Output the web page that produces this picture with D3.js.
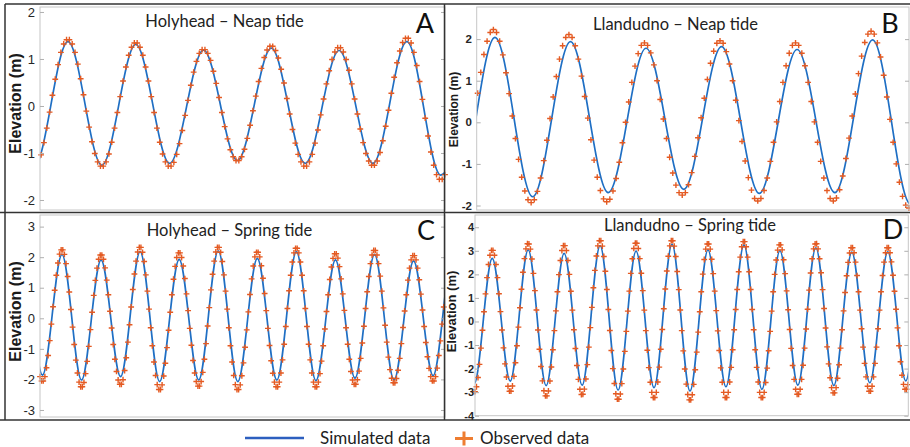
<!DOCTYPE html>
<html>
<head>
<meta charset="utf-8">
<script src="https://cdn.jsdelivr.net/npm/d3@7"></script>
<style>
  body { margin: 0; background: #fff; }
  svg { display: block; }
</style>
</head>
<body>
<svg id="chart" width="910" height="447"></svg>
<script>
// ================= DATA =================
// x is a sample index (one observation every half hour), y is elevation in metres

// tick labels
const ticksA = [-2, -1, 0, 1, 2];
const ticksB = [-2, -1, 0, 1, 2];
const ticksC = [-3, -2, -1, 0, 1, 2, 3];
const ticksD = [-4, -3, -2, -1, 0, 1, 2, 3, 4];

// simulated data: high / low water times and levels
const simTimeA = [-14.5, -2.5, 9.5, 21.5, 33.5, 45.5, 57.5, 69.5, 81.5, 93.5, 105.5, 117.5, 129.5, 141.5, 153.5];
const simLevelA = [1.30, -1.30, 1.37, -1.26, 1.31, -1.22, 1.19, -1.16, 1.23, -1.22, 1.18, -1.22, 1.37, -1.47, 1.30];

const simTimeB = [-18.5, -6.5, 5.5, 17.5, 29.5, 41.5, 53.5, 65.5, 77.5, 89.5, 101.5, 113.5, 125.5, 137.5, 149.5];
const simLevelB = [2.00, -1.80, 2.04, -1.79, 1.94, -1.69, 1.78, -1.61, 1.82, -1.71, 1.75, -1.69, 1.98, -1.96, 1.90];

const simTimeC = [-22.5, -10.5, 1.5, 13.5, 25.5, 37.5, 49.5, 61.5, 73.5, 85.5, 97.5, 109.5, 121.5, 133.5,
  145.5, 157.5, 169.5, 181.5, 193.5, 205.5, 217.5, 229.5, 241.5, 253.5, 265.5];
const simLevelC = [-1.90, 2.10, -1.86, 2.09, -2.02, 1.91, -1.91, 2.18, -2.07, 1.93, -2.02, 2.21, -2.07, 1.96,
  -2.02, 2.18, -2.04, 1.91, -1.96, 2.09, -2.02, 1.88, -1.88, 2.10, -2.00];

const simTimeD = [-24.5, -12.5, -0.5, 11.5, 23.5, 35.5, 47.5, 59.5, 71.5, 83.5, 95.5, 107.5, 119.5, 131.5, 143.5,
  155.5, 167.5, 179.5, 191.5, 203.5, 215.5, 227.5, 239.5, 251.5, 263.5, 275.5, 287.5, 299.5, 311.5];
const simLevelD = [-2.60, 2.70, -2.64, 2.68, -2.53, 3.04, -2.72, 2.89, -2.70, 3.22, -2.91, 2.99, -2.81, 3.28, -2.95,
  3.04, -2.77, 3.25, -2.88, 3.01, -2.70, 3.13, -2.72, 2.94, -2.60, 2.96, -2.52, 2.90, -2.50];

// observed data (half-hourly)
const obsA = [
  -1.04, -0.78, -0.47, -0.13, 0.23, 0.57, 0.88, 1.14, 1.32, 1.41,
  1.41, 1.32, 1.14, 0.89, 0.58, 0.24, -0.11, -0.45, -0.76, -1.01, -1.19, -1.28,
  -1.28, -1.19, -1.02, -0.77, -0.47, -0.14, 0.20, 0.53, 0.83, 1.08, 1.25, 1.34,
  1.34, 1.25, 1.08, 0.83, 0.53, 0.20, -0.14, -0.47, -0.77, -1.02, -1.19, -1.28,
  -1.28, -1.20, -1.03, -0.80, -0.52, -0.20, 0.12, 0.44, 0.72, 0.95, 1.12, 1.20,
  1.20, 1.12, 0.97, 0.74, 0.48, 0.18, -0.14, -0.44, -0.70, -0.93, -1.08, -1.16,
  -1.16, -1.08, -0.92, -0.69, -0.41, -0.10, 0.21, 0.52, 0.80, 1.03, 1.19, 1.27,
  1.27, 1.18, 1.02, 0.78, 0.49, 0.16, -0.17, -0.50, -0.79, -1.03, -1.19, -1.28,
  -1.28, -1.19, -1.03, -0.79, -0.51, -0.19, 0.15, 0.47, 0.75, 0.99, 1.15, 1.24,
  1.24, 1.15, 0.99, 0.76, 0.47, 0.15, -0.17, -0.49, -0.78, -1.01, -1.17, -1.26,
  -1.26, -1.17, -0.99, -0.74, -0.43, -0.09, 0.27, 0.61, 0.92, 1.17, 1.35, 1.44,
  1.44, 1.34, 1.14, 0.86, 0.52, 0.14, -0.26, -0.64, -0.98, -1.26, -1.46, -1.56,
  -1.56, -1.46
];

const obsB = [
  0.70, 1.20, 1.63, 1.95, 2.16,
  2.23, 2.16, 1.95, 1.62, 1.19, 0.69, 0.15, -0.39, -0.89, -1.32, -1.65, -1.86,
  -1.93, -1.86, -1.66, -1.34, -0.92, -0.43, 0.09, 0.61, 1.10, 1.52, 1.84, 2.04,
  2.11, 2.04, 1.84, 1.52, 1.11, 0.62, 0.10, -0.42, -0.91, -1.32, -1.64, -1.84,
  -1.91, -1.85, -1.65, -1.35, -0.96, -0.49, 0.00, 0.49, 0.96, 1.35, 1.65, 1.85,
  1.91, 1.85, 1.67, 1.38, 1.00, 0.55, 0.08, -0.39, -0.84, -1.22, -1.51, -1.69,
  -1.75, -1.69, -1.50, -1.21, -0.82, -0.37, 0.11, 0.58, 1.03, 1.42, 1.71, 1.90,
  1.96, 1.90, 1.70, 1.40, 1.00, 0.53, 0.04, -0.46, -0.93, -1.33, -1.63, -1.83,
  -1.89, -1.83, -1.64, -1.34, -0.94, -0.48, 0.01, 0.50, 0.96, 1.36, 1.66, 1.85,
  1.91, 1.85, 1.66, 1.36, 0.96, 0.50, 0.01, -0.48, -0.94, -1.34, -1.64, -1.83,
  -1.89, -1.82, -1.62, -1.29, -0.87, -0.38, 0.15, 0.68, 1.17, 1.59, 1.92, 2.12,
  2.19, 2.12, 1.91, 1.57, 1.13, 0.61, 0.07, -0.48, -1.00, -1.44, -1.78, -1.99,
  -2.06
];

const obsC = [
  -1.91, -2.05,
  -2.05, -1.91, -1.62, -1.22, -0.73, -0.19, 0.38, 0.92, 1.41, 1.81, 2.10, 2.24,
  2.24, 2.09, 1.79, 1.37, 0.86, 0.29, -0.29, -0.86, -1.37, -1.79, -2.09, -2.24,
  -2.24, -2.10, -1.81, -1.41, -0.92, -0.37, 0.20, 0.75, 1.24, 1.64, 1.93, 2.07,
  2.07, 1.93, 1.65, 1.25, 0.77, 0.23, -0.32, -0.86, -1.34, -1.74, -2.02, -2.16,
  -2.16, -2.01, -1.71, -1.29, -0.78, -0.21, 0.37, 0.94, 1.45, 1.87, 2.17, 2.32,
  2.32, 2.16, 1.86, 1.42, 0.89, 0.30, -0.31, -0.90, -1.43, -1.87, -2.17, -2.33,
  -2.33, -2.18, -1.89, -1.47, -0.96, -0.39, 0.20, 0.77, 1.28, 1.70, 1.99, 2.14,
  2.14, 1.99, 1.71, 1.30, 0.80, 0.25, -0.33, -0.88, -1.38, -1.79, -2.07, -2.22,
  -2.22, -2.07, -1.77, -1.34, -0.83, -0.25, 0.35, 0.93, 1.44, 1.87, 2.17, 2.32,
  2.32, 2.16, 1.86, 1.42, 0.89, 0.30, -0.31, -0.90, -1.43, -1.87, -2.17, -2.33,
  -2.33, -2.18, -1.88, -1.46, -0.95, -0.38, 0.21, 0.78, 1.29, 1.71, 2.01, 2.16,
  2.16, 2.01, 1.72, 1.31, 0.81, 0.25, -0.33, -0.89, -1.39, -1.80, -2.09, -2.24,
  -2.24, -2.09, -1.79, -1.36, -0.85, -0.27, 0.32, 0.90, 1.41, 1.84, 2.14, 2.29,
  2.29, 2.14, 1.84, 1.41, 0.90, 0.32, -0.27, -0.85, -1.36, -1.79, -2.09, -2.24,
  -2.24, -2.09, -1.81, -1.40, -0.90, -0.35, 0.22, 0.77, 1.27, 1.68, 1.96, 2.11,
  2.11, 1.97, 1.69, 1.29, 0.80, 0.26, -0.31, -0.85, -1.34, -1.74, -2.02, -2.16,
  -2.16, -2.01, -1.73, -1.31, -0.81, -0.26, 0.32, 0.87, 1.37, 1.79, 2.07, 2.22,
  2.22, 2.07, 1.79, 1.38, 0.89, 0.34, -0.23, -0.78, -1.27, -1.68, -1.96, -2.11,
  -2.11, -1.97, -1.70, -1.31, -0.83, -0.30, 0.24, 0.77, 1.25, 1.64, 1.91, 2.05,
  2.05, 1.91, 1.64, 1.26, 0.79, 0.27, -0.27, -0.79, -1.26, -1.64, -1.91, -2.05,
  -2.05, -1.91, -1.63, -1.22, -0.74, -0.19, 0.37
];

const obsD = [
  -2.98, -2.77, -2.38, -1.82, -1.13, -0.37, 0.41, 1.17, 1.86, 2.42, 2.81, 3.02,
  3.02, 2.81, 2.42, 1.86, 1.18, 0.42, -0.36, -1.12, -1.80, -2.36, -2.75, -2.96,
  -2.96, -2.74, -2.33, -1.75, -1.03, -0.24, 0.58, 1.37, 2.09, 2.67, 3.08, 3.30,
  3.29, 3.07, 2.65, 2.04, 1.31, 0.49, -0.36, -1.18, -1.91, -2.52, -2.94, -3.16,
  -3.16, -2.95, -2.53, -1.93, -1.20, -0.39, 0.45, 1.26, 1.99, 2.59, 3.01, 3.22,
  3.22, 3.01, 2.59, 2.00, 1.28, 0.48, -0.35, -1.15, -1.87, -2.46, -2.88, -3.10,
  -3.09, -2.87, -2.44, -1.83, -1.09, -0.26, 0.60, 1.43, 2.17, 2.78, 3.21, 3.43,
  3.43, 3.20, 2.76, 2.13, 1.36, 0.51, -0.38, -1.23, -2.00, -2.63, -3.07, -3.30,
  -3.30, -3.08, -2.64, -2.02, -1.27, -0.42, 0.44, 1.29, 2.04, 2.66, 3.10, 3.32,
  3.32, 3.10, 2.67, 2.05, 1.31, 0.48, -0.39, -1.22, -1.96, -2.58, -3.01, -3.23,
  -3.23, -3.01, -2.57, -1.94, -1.18, -0.34, 0.54, 1.38, 2.14, 2.77, 3.21, 3.43,
  3.43, 3.20, 2.76, 2.12, 1.35, 0.49, -0.39, -1.25, -2.02, -2.66, -3.10, -3.33,
  -3.33, -3.11, -2.67, -2.05, -1.30, -0.45, 0.41, 1.26, 2.01, 2.63, 3.07, 3.29,
  3.29, 3.07, 2.64, 2.03, 1.29, 0.46, -0.40, -1.23, -1.97, -2.58, -3.01, -3.23,
  -3.23, -3.01, -2.57, -1.95, -1.20, -0.35, 0.51, 1.36, 2.11, 2.73, 3.17, 3.39,
  3.39, 3.17, 2.73, 2.11, 1.36, 0.51, -0.35, -1.20, -1.95, -2.57, -3.01, -3.23,
  -3.23, -3.01, -2.59, -1.98, -1.24, -0.42, 0.44, 1.26, 2.00, 2.61, 3.03, 3.25,
  3.25, 3.04, 2.62, 2.03, 1.30, 0.50, -0.34, -1.14, -1.87, -2.46, -2.88, -3.09,
  -3.09, -2.88, -2.46, -1.86, -1.13, -0.32, 0.52, 1.33, 2.06, 2.66, 3.08, 3.29,
  3.30, 3.08, 2.66, 2.07, 1.35, 0.55, -0.28, -1.08, -1.80, -2.39, -2.81, -3.03,
  -3.03, -2.81, -2.41, -1.84, -1.13, -0.35, 0.45, 1.23, 1.94, 2.51, 2.91, 3.13,
  3.13, 2.92, 2.52, 1.95, 1.26, 0.48, -0.31, -1.09, -1.78, -2.35, -2.75, -2.96,
  -2.96, -2.75, -2.35, -1.78, -1.09, -0.31, 0.48, 1.26, 1.95, 2.52, 2.92, 3.13,
  3.13, 2.92, 2.53, 1.96, 1.28, 0.52, -0.27, -1.03, -1.71, -2.28, -2.67, -2.88,
  -2.88, -2.68
];

// ================= LAYOUT =================
const simColor = '#1f6fc4';
const obsColor = '#e45a22';
const titleFont = 'Lato, "Open Sans", sans-serif';
const axisFont = '"Liberation Sans", Arial, sans-serif';

const panels = [
  { id: 'A', title: 'Holyhead – Neap tide', left: 40, top: 7, right: 445, bottom: 210,
    xDom: [-0.4, 143], yDom: [-2.213, 2.106], ticks: ticksA,
    simT: simTimeA, simV: simLevelA, obs: obsA,
    tick: { size: 13, weight: 'normal', x: 35 }, ylab: { x: 21, y: 103.5, size: 16 },
    titleAt: [224.5, 27], letterAt: [425, 33] },
  { id: 'B', title: 'Llandudno – Neap tide', left: 476.7, top: 7, right: 909, bottom: 210,
    xDom: [-0.3, 137.05], yDom: [-2.108, 2.772], ticks: ticksB,
    simT: simTimeB, simV: simLevelB, obs: obsB,
    tick: { size: 11.5, weight: 'bold', x: 472 }, ylab: { x: 457.5, y: 109.5, size: 12 },
    titleAt: [675.5, 29.5], letterAt: [890, 33] },
  { id: 'C', title: 'Holyhead – Spring tide', left: 40, top: 215, right: 445, bottom: 417,
    xDom: [0, 248.8], yDom: [-3.23, 3.38], ticks: ticksC,
    simT: simTimeC, simV: simLevelC, obs: obsC,
    tick: { size: 13, weight: 'normal', x: 35 }, ylab: { x: 21, y: 311.5, size: 16 },
    titleAt: [229.5, 236], letterAt: [426, 240] },
  { id: 'D', title: 'Llandudno – Spring tide', left: 475, top: 215, right: 908.3, bottom: 415.7,
    xDom: [0, 289.2], yDom: [-4.0, 4.52], ticks: ticksD,
    simT: simTimeD, simV: simLevelD, obs: obsD,
    tick: { size: 11, weight: 'bold', x: 474 }, ylab: { x: 455.5, y: 311.5, size: 13 },
    titleAt: [690, 231], letterAt: [893, 239] }
];

const svg = d3.select('#chart');
svg.append('rect').attr('width', 910).attr('height', 447).attr('fill', '#fff');

const plus = 'M-2.9,0H2.9M0,-2.9V2.9';

panels.forEach(p => {
  const x = d3.scaleLinear().domain(p.xDom).range([p.left, p.right]);
  const y = d3.scaleLinear().domain(p.yDom).range([p.bottom, p.top]);
  const g = svg.append('g').attr('class', 'panel-' + p.id);

  // clip for the simulated curve
  svg.append('clipPath').attr('id', 'clip' + p.id)
    .append('rect')
      .attr('x', p.left).attr('y', p.top)
      .attr('width', p.right - p.left).attr('height', p.bottom - p.top);

  // simulated line through the high / low waters
  const sim = p.simT.map((t, i) => ({ t, v: p.simV[i] }));
  const line = d3.line()
    .x(d => x(d.t))
    .y(d => y(d.v))
    .curve(d3.curveMonotoneX);

  g.append('path')
    .datum(sim)
    .attr('clip-path', `url(#clip${p.id})`)
    .attr('d', line)
    .attr('fill', 'none')
    .attr('stroke', simColor)
    .attr('stroke-width', 1.7);

  // observed points
  g.append('g').selectAll('path')
    .data(p.obs)
    .join('path')
      .attr('d', plus)
      .attr('transform', (v, i) => `translate(${x(i)},${y(v)})`)
      .attr('fill', 'none')
      .attr('stroke', obsColor)
      .attr('stroke-width', 1.4);

  // light grey axes box (matlab style)
  g.append('rect')
    .attr('x', p.left).attr('y', p.top)
    .attr('width', p.right - p.left).attr('height', p.bottom - p.top)
    .attr('fill', 'none')
    .attr('stroke', '#c6c6c6')
    .attr('stroke-width', 1);

  // inward ticks left and right
  const yAxisL = d3.axisRight(y).tickValues(p.ticks).tickSize(4).tickFormat('');
  const yAxisR = d3.axisLeft(y).tickValues(p.ticks).tickSize(4).tickFormat('');
  [[yAxisL, p.left], [yAxisR, p.right]].forEach(([ax, pos]) => {
    const a = g.append('g').attr('transform', `translate(${pos},0)`).call(ax);
    a.select('.domain').remove();
    a.selectAll('line').attr('stroke', '#b0b0b0');
  });

  // tick labels
  g.append('g').selectAll('text')
    .data(p.ticks)
    .join('text')
      .attr('x', p.tick.x)
      .attr('y', d => y(d))
      .attr('dy', '0.36em')
      .attr('text-anchor', 'end')
      .attr('font-family', axisFont)
      .attr('font-size', p.tick.size)
      .attr('font-weight', p.tick.weight)
      .attr('fill', '#262626')
      .text(d => d);

  // y label
  g.append('text')
    .attr('transform', `translate(${p.ylab.x},${p.ylab.y}) rotate(-90)`)
    .attr('text-anchor', 'middle')
    .attr('font-family', axisFont)
    .attr('font-weight', 'bold')
    .attr('font-size', p.ylab.size)
    .attr('fill', '#1a1a1a')
    .text('Elevation (m)');

  // title and panel letter
  g.append('text')
    .attr('x', p.titleAt[0]).attr('y', p.titleAt[1])
    .attr('text-anchor', 'middle')
    .attr('font-family', titleFont)
    .attr('font-size', 16.5)
    .attr('fill', '#222')
    .text(p.title);

  g.append('text')
    .attr('x', p.letterAt[0]).attr('y', p.letterAt[1])
    .attr('text-anchor', 'middle')
    .attr('font-family', titleFont)
    .attr('font-size', 27)
    .attr('fill', '#111')
    .text(p.id);
});

// dark frames around the panels
const frame = svg.append('g')
  .attr('stroke', '#333')
  .attr('stroke-width', 1.5);
frame.append('line').attr('x1', 5).attr('x2', 910).attr('y1', 4).attr('y2', 4);
frame.append('line').attr('x1', 5).attr('x2', 5).attr('y1', 4).attr('y2', 420);
frame.append('line').attr('x1', 0).attr('x2', 910).attr('y1', 212.5).attr('y2', 212.5);
frame.append('line').attr('x1', 444.5).attr('x2', 444.5).attr('y1', 4).attr('y2', 420);
frame.append('line').attr('x1', 0).attr('x2', 910).attr('y1', 420).attr('y2', 420);

// legend
const legend = svg.append('g').attr('font-family', titleFont).attr('font-size', 17).attr('fill', '#222');
legend.append('line')
  .attr('x1', 245).attr('x2', 304).attr('y1', 438).attr('y2', 438)
  .attr('stroke', '#2d5fbf').attr('stroke-width', 2.5);
legend.append('text').attr('x', 320).attr('y', 443.5).text('Simulated data');
legend.append('path')
  .attr('d', 'M-9,0H9M0,-7V7')
  .attr('transform', 'translate(464,438.5)')
  .attr('stroke', '#ee7d31').attr('stroke-width', 3).attr('fill', 'none');
legend.append('text').attr('x', 480).attr('y', 443.5).text('Observed data');
</script>
</body>
</html>
